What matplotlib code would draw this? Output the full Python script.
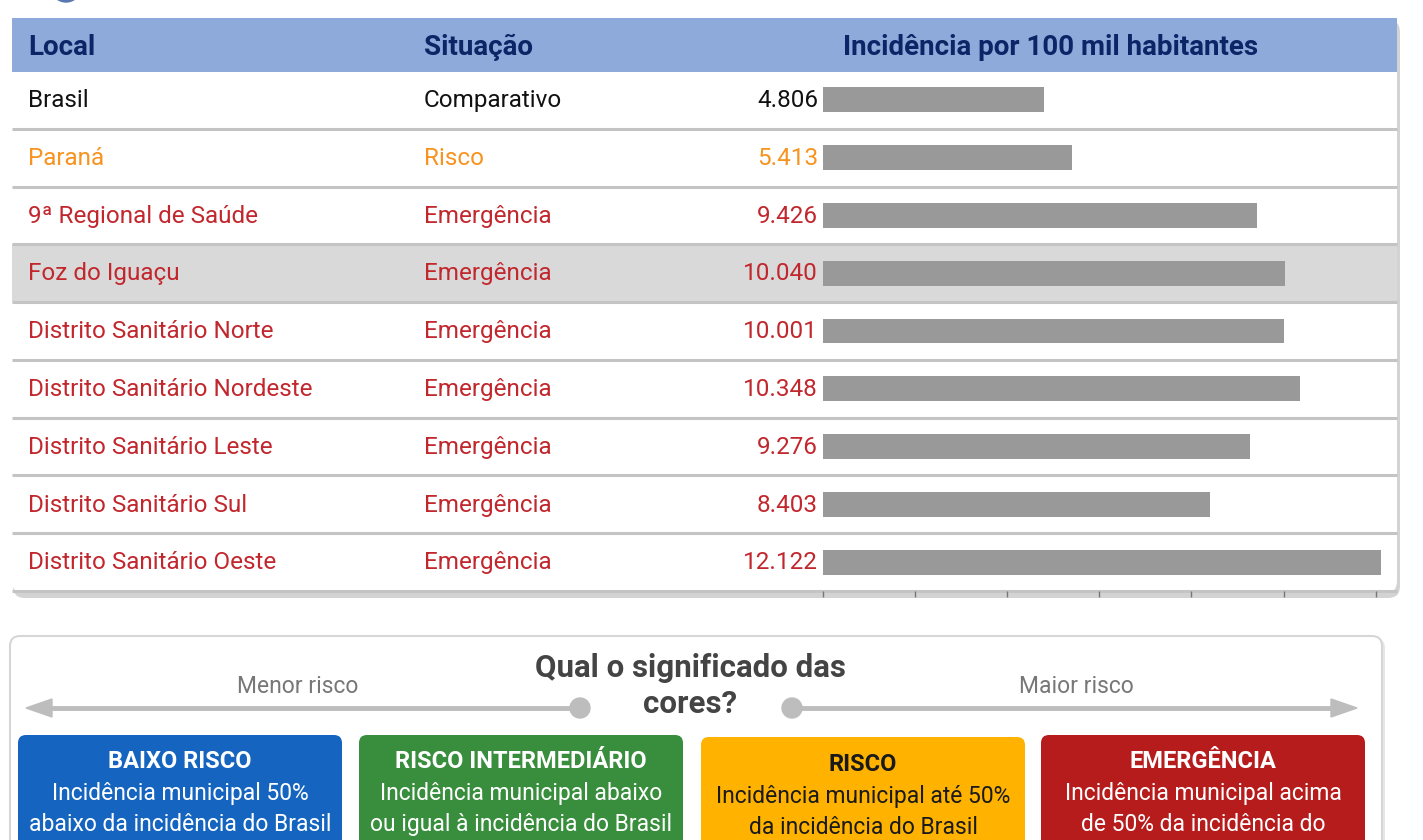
import numpy as np
import matplotlib
matplotlib.use("Agg")
import matplotlib.pyplot as plt
from matplotlib.patches import FancyBboxPatch, Rectangle, Circle, Polygon
from matplotlib import transforms

plt.rcParams['font.family'] = ['Roboto', 'DejaVu Sans']

# dados
locais = ['Brasil', 'Paraná', '9ª Regional de Saúde', 'Foz do Iguaçu',
          'Distrito Sanitário Norte', 'Distrito Sanitário Nordeste',
          'Distrito Sanitário Leste', 'Distrito Sanitário Sul',
          'Distrito Sanitário Oeste']
situacao = ['Comparativo', 'Risco', 'Emergência', 'Emergência', 'Emergência',
            'Emergência', 'Emergência', 'Emergência', 'Emergência']
incidencia = [4.806, 5.413, 9.426, 10.040, 10.001, 10.348, 9.276, 8.403, 12.122]
cabecalho = ['Local', 'Situação', 'Incidência por 100 mil habitantes']
destaque = 'Foz do Iguaçu'

cor_situacao = {'Comparativo': '#111111', 'Risco': '#f7931e', 'Emergência': '#c1272d'}

cards_titulo = ['BAIXO RISCO', 'RISCO INTERMEDIÁRIO', 'RISCO', 'EMERGÊNCIA']
cards_texto = ['Incidência municipal 50%\nabaixo da incidência do Brasil',
               'Incidência municipal abaixo\nou igual à incidência do Brasil',
               'Incidência municipal até 50%\nda incidência do Brasil',
               'Incidência municipal acima\nde 50% da incidência do']
cards_cor = ['#1565c0', '#388e3c', '#ffb300', '#b71c1c']
cards_txtcor = ['white', 'white', '#1a1a1a', 'white']

W, H = 1423, 840
fig = plt.figure(figsize=(W / 100, H / 100), dpi=100)
bg = fig.add_axes([0, 0, 1, 1])
bg.set_xlim(0, W)
bg.set_ylim(H, 0)
bg.axis('off')

# resto de icone cortado no topo
bg.add_patch(Circle((66, -13), 15, color='#5a78b0', zorder=1))

# tabela
L, R, T, B = 12, 1397, 18, 593
hh = 53
n = len(locais)
row_h = (B - 2 - (T + hh)) / n
bg.add_patch(FancyBboxPatch((L + 1, T + 2), R - L + 2, B - T + 3,
                            boxstyle='round,pad=0,rounding_size=12',
                            fc='#d3d3d3', ec='none', zorder=1))
bg.add_patch(FancyBboxPatch((L, T), R - L, B - T,
                            boxstyle='round,pad=0,rounding_size=12',
                            fc='white', ec='none', zorder=2))
bg.add_patch(Rectangle((L, T), R - L, hh + 1, fc='#8eaadb', ec='none', zorder=3))

i_dest = locais.index(destaque)
y0 = T + hh
bg.add_patch(Rectangle((L, y0 + i_dest * row_h), R - L, row_h,
                       fc='#d9d9d9', ec='none', zorder=3))
for i in range(1, n + 1):
    bg.plot([L, R], [y0 + i * row_h, y0 + i * row_h], color='#c4c4c4',
            lw=2.2, zorder=4, solid_capstyle='butt')

hx = [28, 424, 843]
for x, t in zip(hx, cabecalho):
    bg.text(x, T + hh / 2, t, fontsize=20, fontweight='bold', color='#0b2566',
            va='center_baseline', ha='left', zorder=5)

# eixo das barras
x_zero = 822.5
px_unit = 46.1
ax = fig.add_axes([x_zero / W, 1 - (B - 2) / H, (R - x_zero) / W, (B - 2 - y0) / H])
ax.set_xlim(0, (R - x_zero) / px_unit)
ax.set_ylim(n - 0.5, -0.5)
ax.patch.set_alpha(0)
ax.barh(range(n), incidencia, height=0.43, color='#999999', zorder=3)
for s in ['top', 'right', 'left', 'bottom']:
    ax.spines[s].set_visible(False)
ax.set_yticks([])
ax.set_xticks(np.arange(0, 13, 2))
ax.tick_params(axis='x', direction='out', length=4, width=1, color='#777777',
               labelbottom=False)

tr = transforms.blended_transform_factory(bg.transData, ax.transData)
dy_txt = -0.03
for i, (loc, sit, v) in enumerate(zip(locais, situacao, incidencia)):
    c = cor_situacao[sit]
    bg.text(28, i + dy_txt, loc, transform=tr, fontsize=17.5, color=c,
            va='center_baseline', zorder=6)
    bg.text(424, i + dy_txt, sit, transform=tr, fontsize=17.5, color=c,
            va='center_baseline', zorder=6)
    bg.text(818, i + dy_txt, f'{v:.3f}', transform=tr, fontsize=17.5, color=c,
            va='center_baseline', ha='right', zorder=6)

# legenda das cores
bg.add_patch(FancyBboxPatch((12, 638), 1373, 240,
                            boxstyle='round,pad=0,rounding_size=10',
                            fc='#e6e6e6', ec='none', zorder=1))
bg.add_patch(FancyBboxPatch((10, 636), 1372, 240,
                            boxstyle='round,pad=0,rounding_size=10',
                            fc='white', ec='#d6d6d6', lw=1.5, zorder=2))
bg.text(690, 665, 'Qual o significado das', fontsize=22.5, fontweight='bold',
        color='#444444', ha='center', va='center_baseline', zorder=5)
bg.text(690, 701, 'cores?', fontsize=22.5, fontweight='bold',
        color='#444444', ha='center', va='center_baseline', zorder=5)
bg.text(298, 684, 'Menor risco', fontsize=16.5, color='#777777', ha='center',
        va='center_baseline', zorder=5)
bg.text(1076, 684, 'Maior risco', fontsize=16.5, color='#777777', ha='center',
        va='center_baseline', zorder=5)

seta = '#bdbdbd'
ya = 708
bg.plot([48, 580], [ya, ya], color=seta, lw=3.5, zorder=4, solid_capstyle='butt')
bg.add_patch(Polygon([[26, ya], [52, ya - 9], [52, ya + 9]], color=seta, zorder=4))
bg.add_patch(Circle((580, ya), 10, color=seta, zorder=4))
bg.plot([792, 1333], [ya, ya], color=seta, lw=3.5, zorder=4, solid_capstyle='butt')
bg.add_patch(Polygon([[1357, ya], [1331, ya - 9], [1331, ya + 9]], color=seta, zorder=4))
bg.add_patch(Circle((792, ya), 10, color=seta, zorder=4))

cx = [18, 359, 701, 1041]
cw = 324
for x, tit, txt, cor, tc in zip(cx, cards_titulo, cards_texto, cards_cor, cards_txtcor):
    top = 735 if tit != 'RISCO' else 737
    bg.add_patch(FancyBboxPatch((x, top), cw, 160,
                                boxstyle='round,pad=0,rounding_size=8',
                                fc=cor, ec='none', zorder=3))
    dy = 3 if tit == 'RISCO' else 0
    bg.text(x + cw / 2, 759 + dy, tit, fontsize=17, fontweight='bold', color=tc,
            ha='center', va='center_baseline', zorder=5)
    for k, linha in enumerate(txt.split('\n')):
        bg.text(x + cw / 2, 791 + dy + k * 31, linha, fontsize=16.5, color=tc,
                ha='center', va='center_baseline', zorder=5)

fig.savefig('out.png', dpi=100)
